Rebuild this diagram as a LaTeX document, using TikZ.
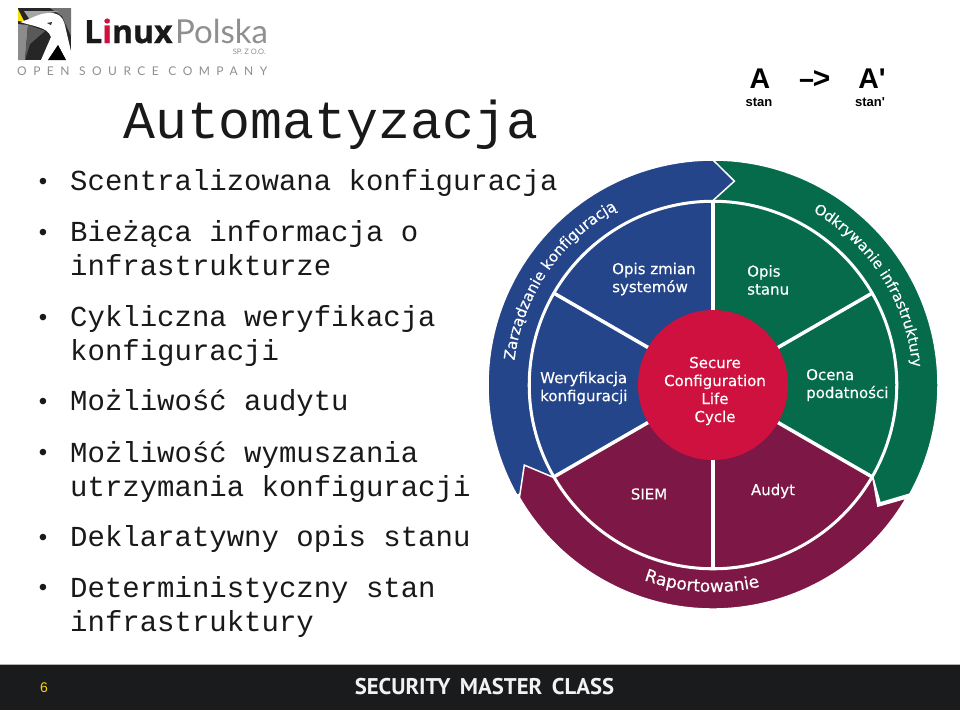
\documentclass[tikz,border=0pt]{standalone}
\usepackage{fontspec}
\setmainfont{Liberation Sans}
\newfontfamily\sansb{Liberation Sans}
\newfontfamily\monof{Liberation Mono}
\newfontfamily\djv[FakeBold=0.3]{DejaVu Sans}
\newfontfamily\logof[BoldFeatures={FakeBold=0.8}]{Open Sans}
\newfontfamily\logol{Lato}
\newfontfamily\logosp[LetterSpace=54]{Lato}
\newfontfamily\ptf{PT Sans}
\usetikzlibrary{decorations.text}
\definecolor{cblue}{HTML}{24458A}
\definecolor{cgreen}{HTML}{056B4B}
\definecolor{cmaroon}{HTML}{7D1846}
\definecolor{cred}{HTML}{CF1140}
\definecolor{cfoot}{HTML}{1A1B1D}
\definecolor{clogo}{HTML}{8F8F8F}
\tikzset{
  item/.style={anchor=base west,inner sep=0pt,align=left,font=\monof\fontsize{29}{33.6}\selectfont,text=black!90},
  bull/.style={anchor=center,inner sep=0pt,font=\monof\fontsize{24}{24}\selectfont,text=black!90},
  wheel/.style={inner sep=0pt,text=white,font=\djv\fontsize{15}{18}\selectfont},
  band/.style={draw=white,line width=1.5pt,line join=miter},
  spoke/.style={draw=white,line width=3.5pt},
  stanl/.style={inner sep=0pt,font=\sansb\bfseries\fontsize{13}{13}\selectfont},
  statea/.style={anchor=base,inner sep=0pt,font=\sansb\bfseries\fontsize{28.5}{29}\selectfont},
  statearr/.style={anchor=base,inner sep=0pt,font=\monof\bfseries\fontsize{30}{30}\selectfont},
  curved/.style={decorate,decoration={text along path,text color=white,text align=left,text={#1}}},
}
\begin{document}
\begin{tikzpicture}[x=1pt,y=1pt]
\useasboundingbox (0,0) rectangle (960,-710);
\fill[white] (0,0) rectangle (960,-710);

% footer
\fill[cfoot] (0,-664) rectangle (960,-710);
\draw[black!30,line width=0.8pt] (0,-664) -- (960,-664);
\node[inner sep=0pt,text=yellow!70!orange,font=\sansb\fontsize{14}{14}\selectfont] (pg) at (44,-687.5) {6};
\node[inner sep=0pt,text=white!95!black,font=\ptf\bfseries\fontsize{22.7}{23}\selectfont] (smc) at (484.5,-687) {SECURITY\, MASTER\, CLASS};

% logo mark
\fill[black!85] (18,-8) rectangle (71,-60);
\fill[black!55] (50,-8) -- (71,-8) -- (71,-36) -- (62,-16) -- cycle;
\fill[black!35] (24,-11) -- (60,-11) -- (50,-13) -- (30,-20) -- cycle;
\fill[yellow!80!orange] (18,-9) -- (24,-21) -- (18,-21) -- cycle;
\fill[black!45] (18,-24) -- (28,-25) -- (25,-60) -- (18,-60) -- cycle;
\fill[black!65] (28,-25) -- (45,-31) -- (30,-44) -- (25,-60) -- cycle;
\fill[white] (20,-22) .. controls (32,-19) and (38,-13) .. (50,-13) .. controls (60,-13) and (64,-18) .. (66,-30) -- (73,-60) -- (66,-60) -- (58,-45) -- (48,-60) -- (41,-60) -- (51,-37) .. controls (49,-31) and (44,-29) .. (38,-27) .. controls (32,-25) and (26,-24) .. (20,-22) -- cycle;
\fill[black] (58,-45) -- (66,-60) -- (48,-60) -- cycle;
\fill[black!80] (47,-23) -- (52,-22) -- (51,-25) -- cycle;
\node[anchor=base west,inner sep=0pt,font=\logof\bfseries\fontsize{32}{32}\selectfont,text=black!90] (linux) at (84,-43) {L\textcolor{cred}{i}nux};
\node[anchor=base west,inner sep=0pt,font=\logol\fontsize{33}{33}\selectfont,text=clogo] (polska) at (175,-43) {Polska};
\node[anchor=base east,inner sep=0pt,font=\logol\fontsize{7.5}{8}\selectfont,text=clogo] (spzoo) at (266,-54) {SP. Z O.O.};
\node[anchor=base west,inner sep=0pt,font=\logosp\fontsize{12}{12}\selectfont,text=clogo] (osc) at (17,-75) {OPEN SOURCE COMPANY};

% title and bullet list
\node[anchor=base west,inner sep=0pt,font=\monof\fontsize{53.2}{53}\selectfont,text=black!90] (title) at (123,-138) {Automatyzacja};
\node[item] (i1) at (70,-190) {Scentralizowana konfiguracja};
\node[item] (i2) at (70,-275) {Bieżąca informacja o\\infrastrukturze};
\node[item] (i3) at (70,-360) {Cykliczna weryfikacja\\konfiguracji};
\node[item] (i4) at (70,-410.5) {Możliwość audytu};
\node[item] (i5) at (70,-496) {Możliwość wymuszania\\utrzymania konfiguracji};
\node[item] (i6) at (70,-546.5) {Deklaratywny opis stanu};
\node[item] (i7) at (70,-631) {Deterministyczny stan\\infrastruktury};
\foreach \n/\y in {b1/184,b2/235,b3/320,b4/404,b5/455,b6/540,b7/590}
  \node[bull] (\n) at (43,-\y) {•};

% A -> A'
\node[statea] (a1) at (760,-88) {A};
\node[statearr] (arr) at (814,-88) {–\kern-3pt>};
\node[statea] (a2) at (872,-88) {A'};
\node[stanl] (s1) at (759,-102) {stan};
\node[stanl] (s2) at (870,-102) {stan'};

% wheel
\begin{scope}[shift={(713pt,-385pt)}]
  \fill[cblue] (0,0) -- (90:184pt) arc[start angle=90,end angle=210,radius=184pt] -- cycle;
  \fill[cgreen] (0,0) -- (-30:184pt) arc[start angle=-30,end angle=90,radius=184pt] -- cycle;
  \fill[cmaroon] (0,0) -- (210:184pt) arc[start angle=210,end angle=330,radius=184pt] -- cycle;
  \foreach \a in {30,90,150,210,270,330}
    \draw[spoke] (0,0) -- (\a:183pt);
  \draw[white,line width=2.5pt] (0,0) circle[radius=183.5pt];
  \fill[cred] (0,0) circle[radius=75pt];
  % outer arrows, each over the tail of the next
  \path[fill=cgreen,band] (90:225pt) arc[start angle=90,end angle=-29,radius=225pt] -- (-35.2:204.5pt) -- (-30:184.5pt) arc[start angle=-30,end angle=90,radius=184.5pt] -- cycle;
  \path[fill=cblue,band] (90:225pt) arc[start angle=90,end angle=209.4,radius=225pt] -- (210:184.5pt) arc[start angle=210,end angle=90,radius=184.5pt] -- (84:205pt) -- cycle;
  \path[fill=cmaroon,band] (-30.3:224pt) arc[start angle=-30.3,end angle=-149.8,radius=224pt] -- (203:205pt) -- (210:184.5pt) arc[start angle=210,end angle=330,radius=184.5pt] -- (-36.3:204.6pt) -- cycle;
  % curved labels
  \path[curved={|\djv\fontsize{15}{15}\selectfont|Zarządzanie konfiguracją}] (173:200pt) arc[start angle=173,end angle=100,radius=200pt];
  \path[curved={|\djv\fontsize{14.6}{15}\selectfont|Odkrywanie infrastruktury}] (60:200pt) arc[start angle=60,end angle=-10,radius=200pt];
  \path[curved={|\djv\fontsize{17}{17}\selectfont|Raportowanie}] (-109.5:207pt) arc[start angle=-109.5,end angle=-60,radius=207pt];
\end{scope}

\node[wheel,anchor=west,align=left] (t1) at (612,-279) {Opis zmian\\systemów};
\node[wheel,anchor=west,align=left] (t2) at (747,-280) {Opis\\stanu};
\node[wheel,anchor=west,align=left] (t3) at (540,-388) {Weryfikacja\\konfiguracji};
\node[wheel,anchor=west,align=left] (t4) at (806,-385) {Ocena\\podatności};
\node[wheel] (t5) at (649,-494) {SIEM};
\node[wheel] (t6) at (773,-491) {Audyt};
\node[wheel,align=center] (t7) at (715,-391) {Secure\\Configuration\\Life\\Cycle};
\end{tikzpicture}
\end{document}
